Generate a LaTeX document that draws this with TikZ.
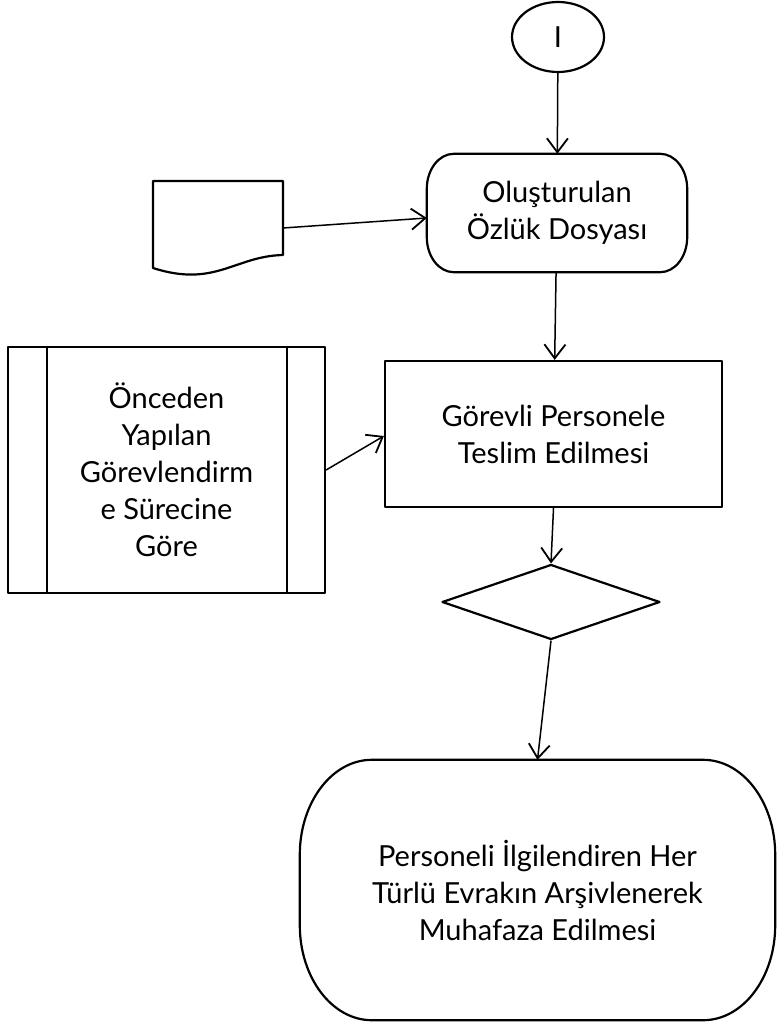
\documentclass[tikz,border=0pt]{standalone}
\usepackage{fontspec}
\setmainfont{Lato}
\usetikzlibrary{arrows.meta,shapes.geometric}
\tikzset{
	boxline/.style={line width=2.2pt, line join=round},
	flowarrow/.style={line width=1.5pt, -{Straight Barb[length=14pt, width=21pt, line width=1.8pt]}},
	flowtext/.style={align=center, font=\fontsize{29}{37}\selectfont, inner sep=0pt},
}
\def\ovalframe(#1)(#2:#3){\draw[boxline] ([xshift=#2]#1.north west) -- ([xshift=-#2]#1.north east) arc[start angle=90, end angle=0, x radius=#2, y radius=#3] -- ([yshift=#3]#1.south east) arc[start angle=0, end angle=-90, x radius=#2, y radius=#3] -- ([xshift=#2]#1.south west) arc[start angle=270, end angle=180, x radius=#2, y radius=#3] -- ([yshift=-#3]#1.north west) arc[start angle=180, end angle=90, x radius=#2, y radius=#3] -- cycle;}

\begin{document}
\begin{tikzpicture}[x=1pt, y=-1pt]
			%%%%% START %%%%%
			\useasboundingbox (0, 0) rectangle (776, 1022);
			
			\node[boxline, draw, ellipse, minimum width=92, minimum height=70, flowtext] (con) at (558, 37) {I};
			
			\node[flowtext, minimum width=260, minimum height=118] (osz) at (557, 213) {Oluşturulan\\Özlük Dosyası};
			\ovalframe(osz)(27pt:35pt)
			
			\draw[boxline] (153, 181) -- (283, 181) -- (283, 255) .. controls (235, 256) and (215, 288) .. (153, 268) -- cycle;
			\coordinate (doc) at (283, 228);
			
			\node[boxline, draw, flowtext, minimum width=317, minimum height=246] (pre) at (166.5, 470) {Önceden\\Yapılan\\Görevlendirm\\e Sürecine\\Göre};
			\draw[boxline] ([xshift=40pt]pre.north west) -- ([xshift=40pt]pre.south west);
			\draw[boxline] ([xshift=-39pt]pre.north east) -- ([xshift=-39pt]pre.south east);
			
			\node[boxline, draw, flowtext, minimum width=337, minimum height=146] (gor) at (553.5, 434) {Görevli Personele\\Teslim Edilmesi};
			
			\node[boxline, draw, diamond, minimum width=218, minimum height=75, inner sep=0pt] (dia) at (551, 602) {};
			
			\node[flowtext, minimum width=475, minimum height=260] (arc) at (537.5, 890) {Personeli İlgilendiren Her\\Türlü Evrakın Arşivlenerek\\Muhafaza Edilmesi};
			\ovalframe(arc)(72pt:95pt)
			
			\draw[flowarrow] (con) -- (osz);
			\draw[flowarrow] (doc) -- ([yshift=-5pt]osz.west);
			\draw[flowarrow] (osz) -- (gor);
			\draw[flowarrow] (pre.east) -- ([yshift=-2pt]gor.west);
			\draw[flowarrow] (gor.south) -- (dia.north);
			\draw[flowarrow] (dia.south) -- (arc.north);
			
			%%%%% END %%%%%
\end{tikzpicture}
\end{document}
